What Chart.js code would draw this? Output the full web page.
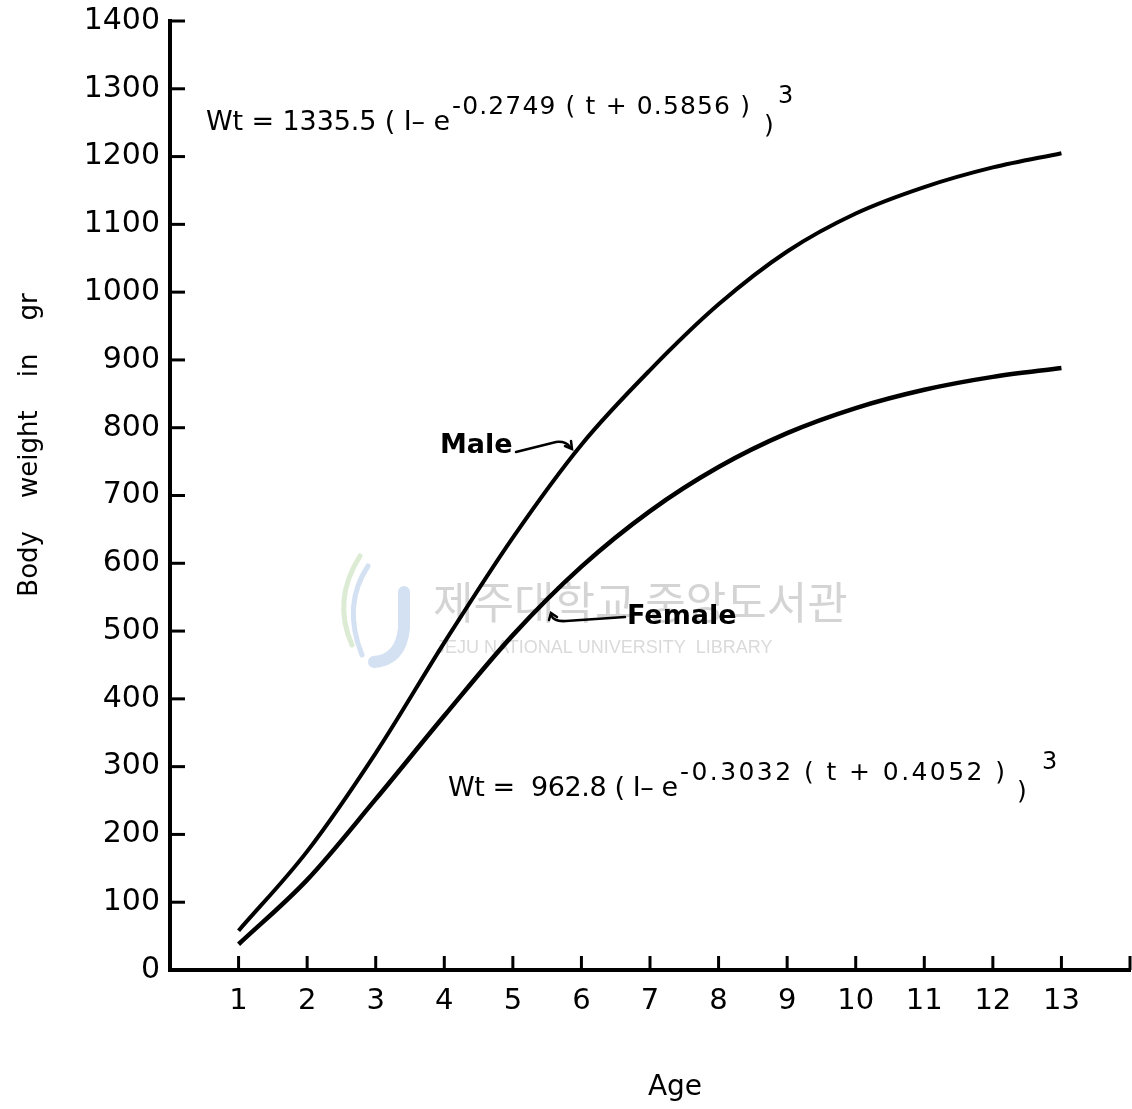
<!DOCTYPE html>
<html>
<head>
<meta charset="utf-8">
<script src="https://cdn.jsdelivr.net/npm/chart.js@4.4.1/dist/chart.umd.min.js"></script>
<style>
  html, body { margin: 0; padding: 0; background: #fff; }
  canvas { display: block; }
</style>
</head>
<body>
<canvas id="chart_growth" width="1132" height="1109"></canvas>
<script>
// values
let ages = [1, 2, 3, 4, 5, 6, 7, 8, 9, 10, 11, 12, 13];
let male = [58, 175, 320, 483, 638, 775, 885, 982, 1060, 1116, 1155, 1184, 1205];
let female = [38, 133, 252, 375, 494, 595, 677, 742, 792, 829, 856, 875, 888];
let xTicks = [1, 2, 3, 4, 5, 6, 7, 8, 9, 10, 11, 12, 13];

const FONT = '"DejaVu Sans", "Liberation Sans", sans-serif';

function points(vals) {
    return ages.map((a, i) => ({ x: a, y: vals[i] }));
}

// text stretched so it fills [x0, x1]
function spread(ctx, text, x0, x1, y) {
    let w = ctx.measureText(text).width;
    let gap = (x1 - x0 - w) / (text.length - 1);
    let x = x0;
    for (const ch of text) {
        ctx.fillText(ch, x, y);
        x += ctx.measureText(ch).width + gap;
    }
}

// "Wt = A (1- e^{...} )^3" piece by piece
function equation(ctx, eq) {
    ctx.textAlign = 'left';
    ctx.textBaseline = 'alphabetic';
    ctx.font = '27px ' + FONT;
    spread(ctx, eq.main, eq.x, eq.supX, eq.y);
    ctx.font = '25px ' + FONT;
    spread(ctx, eq.sup, eq.supX + 2, eq.supEnd, eq.y - 16);
    ctx.font = '25px ' + FONT;
    ctx.fillText(')', eq.parenX, eq.y + 3);
    ctx.font = '24px ' + FONT;
    ctx.fillText('3', eq.expX, eq.y - 27);
}

const decorations = {
    id: 'decorations',
    beforeDatasetsDraw(chart) {
        const ctx = chart.ctx;
        ctx.save();
        // library watermark
        ctx.globalAlpha = 0.5;
        ctx.lineCap = 'round';
        ctx.strokeStyle = '#a9c3e6';
        ctx.lineWidth = 12;
        ctx.beginPath();
        ctx.moveTo(404, 592);
        ctx.lineTo(404, 628);
        ctx.quadraticCurveTo(401, 660, 374, 662);
        ctx.stroke();
        ctx.strokeStyle = '#b9d7a8';
        ctx.lineWidth = 5;
        ctx.beginPath();
        ctx.moveTo(352, 645);
        ctx.quadraticCurveTo(332, 600, 360, 556);
        ctx.stroke();
        ctx.strokeStyle = '#a9c3e6';
        ctx.lineWidth = 5;
        ctx.beginPath();
        ctx.moveTo(362, 655);
        ctx.quadraticCurveTo(342, 605, 368, 566);
        ctx.stroke();
        ctx.globalAlpha = 1;
        ctx.fillStyle = '#d4d4d4';
        ctx.font = '44px "Noto Sans CJK KR", sans-serif';
        ctx.textAlign = 'left';
        ctx.textBaseline = 'middle';
        ctx.fillText('제주대학교 중앙도서관', 433, 602);
        ctx.fillStyle = '#dadada';
        ctx.font = '18px "Liberation Sans", sans-serif';
        ctx.fillText('JEJU NATIONAL UNIVERSITY  LIBRARY', 436, 648);
        ctx.restore();
    },
    afterDraw(chart) {
        const ctx = chart.ctx;
        const xs = chart.scales.x, ys = chart.scales.y;
        const left = chart.chartArea.left, bottom = chart.chartArea.bottom;
        ctx.save();
        ctx.strokeStyle = '#000';
        ctx.fillStyle = '#000';
        // inward ticks
        ctx.lineWidth = 3;
        for (let v = 100; v <= 1400; v += 100) {
            let py = ys.getPixelForValue(v);
            ctx.beginPath();
            ctx.moveTo(left, py);
            ctx.lineTo(left + 15, py);
            ctx.stroke();
        }
        for (let a = 1; a <= 14; a++) {
            let px = xs.getPixelForValue(a);
            ctx.beginPath();
            ctx.moveTo(px, bottom);
            ctx.lineTo(px, bottom - 14);
            ctx.stroke();
        }

        // axis titles
        ctx.font = '28px ' + FONT;
        ctx.textAlign = 'center';
        ctx.textBaseline = 'middle';
        ctx.fillText('Age', 675, 1088);
        ctx.save();
        ctx.translate(30, 445);
        ctx.rotate(-Math.PI / 2);
        ctx.font = '26px ' + FONT;
        ctx.fillText('Body    weight    in    gr', 0, 0);
        ctx.restore();

        // equations
        equation(ctx, { x: 206, y: 130, supX: 450, supEnd: 750, parenX: 764, expX: 778,
                        main: 'Wt = 1335.5 ( I\u2013 e', sup: '-0.2749 ( t + 0.5856 )' });
        equation(ctx, { x: 448, y: 796, supX: 678, supEnd: 1005, parenX: 1017, expX: 1042,
                        main: 'Wt =  962.8 ( I\u2013 e', sup: '-0.3032 ( t + 0.4052 )' });

        // series labels with arrows
        ctx.font = 'bold 27px ' + FONT;
        ctx.textAlign = 'left';
        ctx.textBaseline = 'middle';
        ctx.fillText('Male', 440, 446);
        ctx.fillText('Female', 627, 617);
        ctx.lineWidth = 2.5;
        ctx.lineCap = 'round';
        ctx.beginPath();
        ctx.moveTo(516, 452);
        ctx.quadraticCurveTo(540, 446, 556, 442);
        ctx.quadraticCurveTo(566, 441, 570, 447);
        ctx.stroke();
        ctx.beginPath();
        ctx.moveTo(565, 446);
        ctx.lineTo(572, 449);
        ctx.lineTo(571, 441);
        ctx.stroke();
        ctx.beginPath();
        ctx.moveTo(625, 617);
        ctx.lineTo(566, 621);
        ctx.quadraticCurveTo(554, 622, 551, 615);
        ctx.stroke();
        ctx.beginPath();
        ctx.moveTo(549, 620);
        ctx.lineTo(551, 613);
        ctx.lineTo(557, 617);
        ctx.stroke();
        ctx.restore();
    }
};

let ctx_growth = document.getElementById('chart_growth');

let chart_growth = new Chart(ctx_growth, {
    type: 'line',
    data: {
        datasets: [{
            label: 'Male',
            data: points(male),
            borderColor: '#000',
            borderWidth: 4,
            pointRadius: 0,
            fill: false,
            cubicInterpolationMode: 'monotone'
        }, {
            label: 'Female',
            data: points(female),
            borderColor: '#000',
            borderWidth: 4.5,
            pointRadius: 0,
            fill: false,
            cubicInterpolationMode: 'monotone'
        }]
    },
    options: {
        responsive: false,
        maintainAspectRatio: false,
        animation: false,
        layout: { padding: { top: 21, right: 2, left: 0, bottom: 0 } },
        plugins: {
            legend: { display: false },
            tooltip: { enabled: false }
        },
        scales: {
            x: {
                type: 'linear',
                min: 0,
                max: 14,
                afterFit: s => { s.height = 139; s.paddingLeft = 0; s.paddingRight = 0; },
                afterBuildTicks: s => {
                    s.ticks = [0].concat(xTicks, [14]).map(v => ({ value: v }));
                },
                grid: { display: false, drawTicks: false },
                border: { display: true, color: '#000', width: 4 },
                ticks: {
                    color: '#000',
                    font: { family: FONT, size: 29 },
                    padding: 14,
                    maxRotation: 0,
                    autoSkip: false,
                    callback: v => xTicks.includes(v) ? String(v) : ''
                }
            },
            y: {
                min: 0,
                max: 1400,
                afterFit: s => { s.width = 170; s.paddingTop = 0; s.paddingBottom = 0; },
                grid: { display: false, drawTicks: false },
                border: { display: true, color: '#000', width: 4 },
                ticks: {
                    stepSize: 100,
                    color: '#000',
                    font: { family: FONT, size: 30 },
                    padding: 10,
                    callback: v => String(v)
                }
            }
        }
    },
    plugins: [decorations]
});
</script>
</body>
</html>
